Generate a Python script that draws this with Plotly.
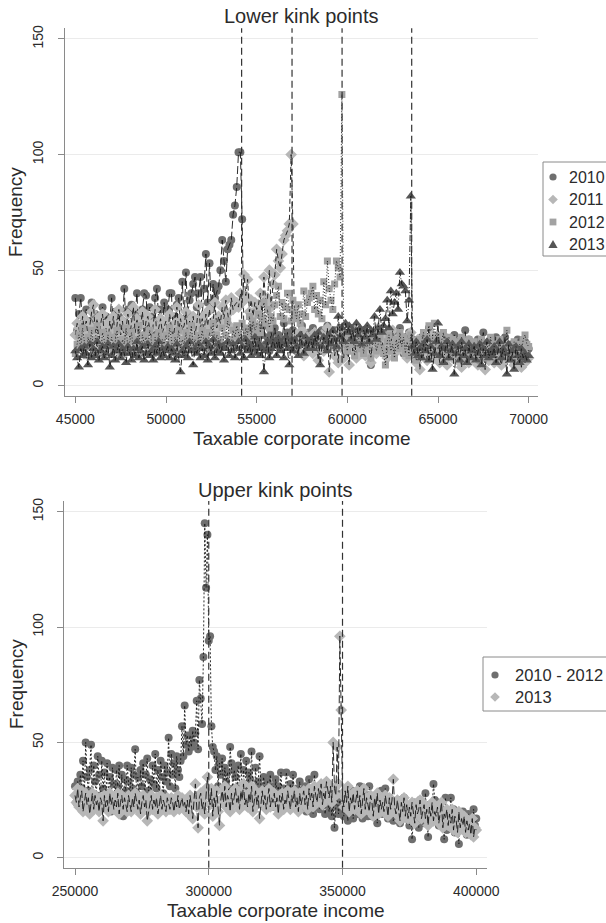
import plotly.graph_objects as go

W, H = 606, 923

# ---------------- data ----------------
lower_bins = list(range(45000, 70001, 100))
upper_bins = list(range(250000, 400001, 500))
lower_kinks = [54170, 56950, 59710, 63550]
upper_kinks = [300000, 350000]
lower_names = ["2010", "2011", "2012", "2013"]
upper_names = ["2010 - 2012", "2013"]
y_ticks = [0, 50, 100, 150]
lower_xticks = [45000, 50000, 55000, 60000, 65000, 70000]
upper_xticks = [250000, 300000, 350000, 400000]

freq_2010 = [
    38, 24, 31, 38, 27, 22, 33, 19, 28, 36,
    25, 31, 20, 29, 26, 34, 22, 30, 18, 27,
    38, 23, 32, 25, 30, 21, 28, 42, 24, 33,
    22, 35, 26, 31, 40, 20, 29, 33, 40, 39,
    25, 34, 30, 23, 38, 42, 28, 33, 24, 36,
    27, 33, 40, 40, 22, 30, 35, 38, 26, 45,
    29, 49, 31, 37, 40, 44, 47, 34, 40, 47,
    30, 42, 57, 36, 53, 33, 44, 38, 41, 43,
    50, 63, 54, 45, 59, 61, 63, 74, 78, 86,
    101, 101, 72, 20, 17, 22, 18, 25, 16, 21,
    20, 24, 17, 22, 26, 18, 21, 15, 23, 19,
    25, 18, 22, 16, 20, 27, 19, 23, 17, 21,
    24, 20, 15, 22, 18, 26, 19, 21, 16, 23,
    19, 25, 17, 22, 20, 15, 24, 18, 21, 26,
    17, 22, 19, 24, 16, 21, 25, 18, 20, 14,
    22, 18, 25, 20, 16, 23, 19, 21, 15, 24,
    18, 22, 17, 9, 21, 19, 24, 16, 20, 23,
    17, 21, 19, 24, 15, 20, 18, 22, 16, 25,
    19, 14, 21, 17, 23, 16, 20, 15, 18, 13,
    17, 21, 14, 19, 16, 25, 13, 22, 18, 15,
    20, 14, 18, 16, 21, 12, 17, 19, 15, 22,
    16, 19, 13, 18, 15, 24, 14, 20, 17, 12,
    18, 15, 20, 13, 17, 23, 16, 14, 19, 11,
    17, 14, 21, 16, 12, 18, 15, 21, 13, 16,
    14, 18, 12, 16, 20, 13, 17, 15, 19, 14,
    16,
]

freq_2011 = [
    22, 27, 25, 20, 30, 24, 28, 21, 26, 32,
    35, 23, 29, 19, 27, 31, 22, 25, 18, 28,
    24, 30, 20, 26, 33, 22, 28, 19, 25, 31,
    21, 27, 34, 23, 29, 20, 26, 32, 22, 28,
    30, 24, 19, 27, 33, 21, 25, 29, 23, 26,
    28, 22, 31, 25, 20, 27, 34, 23, 29, 24,
    26, 32, 21, 28, 24, 30, 22, 27, 35, 25,
    29, 23, 31, 26, 33, 24, 28, 36, 25, 30,
    27, 34, 29, 37, 31, 26, 38, 33, 35, 36,
    34, 40, 36, 48, 39, 46, 32, 37, 30, 36,
    33, 35, 40, 30, 47, 36, 38, 50, 34, 44,
    48, 59, 54, 51, 57, 63, 65, 67, 70, 100,
    70, 18, 22, 15, 20, 24, 13, 19, 21, 16,
    20, 14, 23, 17, 11, 19, 22, 15, 18, 25,
    6, 17, 21, 13, 19, 10, 24, 16, 12, 20,
    18, 9, 22, 15, 19, 12, 21, 17, 14, 23,
    13, 20, 16, 10, 22, 18, 14, 25, 17, 21,
    15, 19, 12, 22, 17, 24, 14, 20, 16, 18,
    21, 15, 19, 12, 17, 23, 14, 18, 10, 20,
    7, 16, 13, 19, 11, 17, 14, 22, 12, 18,
    15, 10, 19, 13, 17, 9, 16, 20, 12, 14,
    18, 11, 15, 8, 17, 13, 19, 10, 16, 12,
    14, 17, 9, 15, 12, 18, 7, 16, 11, 13,
    16, 10, 14, 18, 12, 9, 15, 11, 17, 13,
    12, 15, 9, 17, 11, 14, 8, 16, 10, 13,
    12,
]

freq_2012 = [
    14, 18, 22, 16, 25, 19, 13, 21, 17, 24,
    15, 20, 26, 18, 14, 23, 19, 16, 22, 17,
    21, 15, 19, 24, 17, 13, 20, 18, 25, 16,
    19, 23, 15, 20, 17, 26, 14, 22, 18, 21,
    16, 24, 19, 14, 21, 17, 23, 15, 20, 18,
    22, 17, 25, 19, 15, 21, 18, 24, 16, 20,
    18, 23, 16, 21, 26, 17, 20, 15, 22, 19,
    24, 18, 21, 16, 23, 19, 27, 17, 22, 20,
    19, 25, 17, 22, 28, 20, 18, 24, 21, 26,
    23, 20, 27, 19, 25, 22, 30, 21, 28, 24,
    26, 31, 23, 29, 36, 27, 33, 25, 30, 28,
    35, 39, 43, 30, 36, 29, 34, 40, 33, 28,
    37, 32, 29, 35, 27, 31, 41, 30, 36, 38,
    40, 43, 33, 39, 31, 37, 29, 45, 35, 54,
    42, 37, 33, 44, 54, 51, 47, 126, 22, 18,
    15, 21, 18, 24, 13, 19, 22, 16, 20, 14,
    23, 17, 20, 12, 19, 22, 15, 18, 21, 16,
    14, 9, 19, 22, 15, 18, 12, 20, 16, 23,
    17, 21, 14, 19, 13, 22, 16, 18, 11, 20,
    15, 19, 23, 17, 21, 26, 14, 20, 27, 18,
    22, 16, 19, 23, 14, 18, 21, 15, 20, 17,
    13, 19, 16, 21, 12, 18, 15, 20, 14, 17,
    19, 13, 17, 11, 20, 15, 18, 12, 16, 21,
    14, 18, 11, 16, 20, 13, 17, 15, 24, 12,
    17, 13, 19, 15, 11, 18, 14, 20, 22, 18,
    17,
]

freq_2013 = [
    15, 12, 8, 16, 13, 17, 14, 9, 18, 12,
    16, 13, 19, 11, 15, 17, 12, 14, 18, 8,
    13, 17, 11, 15, 18, 12, 16, 14, 10, 17,
    14, 11, 16, 13, 19, 12, 15, 17, 11, 14,
    18, 13, 15, 11, 17, 14, 19, 12, 16, 13,
    15, 17, 12, 16, 14, 11, 18, 13, 6, 15,
    13, 17, 12, 19, 15, 9, 16, 14, 18, 12,
    16, 13, 19, 11, 17, 14, 20, 12, 15, 18,
    14, 17, 11, 16, 19, 13, 15, 18, 12, 16,
    19, 14, 17, 12, 20, 15, 18, 13, 16, 21,
    14, 18, 13, 16, 6, 15, 19, 12, 16, 20,
    17, 13, 20, 15, 18, 12, 21, 16, 9, 19,
    15, 20, 17, 13, 22, 18, 14, 21, 16, 19,
    20, 16, 22, 18, 23, 9, 17, 21, 19, 15,
    22, 18, 24, 20, 17, 30, 21, 25, 19, 27,
    23, 26, 20, 24, 19, 27, 22, 25, 18, 24,
    21, 26, 19, 24, 22, 30, 20, 25, 33, 23,
    26, 29, 37, 25, 41, 31, 36, 40, 33, 49,
    44, 43, 41, 28, 37, 82, 17, 14, 19, 13,
    16, 12, 18, 15, 20, 11, 17, 7, 14, 19,
    27, 13, 17, 10, 16, 19, 12, 15, 18, 5,
    14, 17, 11, 19, 13, 16, 10, 18, 12, 15,
    17, 11, 14, 18, 9, 16, 13, 19, 12, 15,
    13, 17, 10, 15, 19, 12, 16, 14, 5, 18,
    11, 15, 7, 17, 13, 10, 16, 12, 14, 11,
    13,
]

freq_2010_2012_upper = [
    31, 24, 33, 28, 36, 30, 42, 27, 50, 35,
    29, 38, 49, 22, 40, 33, 27, 44, 36, 25,
    42, 30, 37, 24, 41, 28, 35, 20, 39, 32,
    26, 38, 31, 40, 23, 36, 18, 34, 29, 40,
    33, 25, 39, 30, 36, 47, 28, 35, 22, 38,
    31, 41, 27, 36, 43, 29, 34, 24, 40, 32,
    45, 30, 38, 26, 42, 35, 28, 40, 33, 37,
    52, 31, 45, 36, 41, 30, 44, 38, 35, 42,
    57, 44, 66, 49, 53, 46, 53, 48, 55, 50,
    54, 68, 47, 77, 69, 58, 87, 145, 117, 140,
    94, 96, 57, 48, 46, 38, 44, 31, 41, 36,
    43, 29, 39, 33, 37, 27, 48, 41, 30, 38,
    35, 28, 40, 31, 45, 26, 38, 30, 42, 24,
    37, 34, 46, 29, 22, 39, 28, 33, 44, 31,
    27, 35, 30, 24, 33, 29, 36, 26, 31, 22,
    34, 28, 31, 25, 37, 23, 30, 27, 37, 29,
    26, 32, 24, 36, 28, 22, 30, 25, 33, 21,
    29, 24, 31, 20, 27, 34, 23, 28, 19, 36,
    22, 29, 25, 21, 30, 24, 27, 19, 28, 23,
    20, 26, 18, 24, 13, 22, 28, 19, 25, 21,
    24, 18, 27, 22, 16, 25, 20, 29, 17, 23,
    26, 19, 24, 31, 21, 17, 28, 22, 25, 18,
    31, 23, 18, 26, 20, 27, 15, 24, 21, 29,
    19, 25, 30, 22, 17, 26, 20, 23, 16, 24,
    21, 18, 25, 15, 22, 19, 26, 17, 23, 20,
    14, 22, 8, 19, 24, 16, 21, 13, 25, 18,
    20, 15, 28, 18, 9, 23, 17, 21, 32, 25,
    19, 24, 14, 22, 17, 20, 8, 26, 12, 18,
    16, 26, 13, 21, 11, 18, 14, 6, 15, 12,
    20, 14, 17, 10, 19, 13, 16, 11, 21, 14,
    17,
]

freq_2013_upper = [
    27, 24, 30, 22, 26, 29, 20, 25, 28, 23,
    26, 19, 24, 28, 21, 27, 23, 25, 20, 26,
    24, 16, 27, 22, 25, 20, 28, 23, 26, 21,
    25, 22, 28, 19, 24, 27, 21, 26, 23, 20,
    27, 23, 20, 26, 22, 28, 24, 21, 25, 19,
    24, 27, 22, 25, 16, 20, 23, 27, 21, 25,
    22, 26, 19, 24, 27, 21, 25, 23, 20, 26,
    23, 21, 26, 24, 20, 25, 22, 27, 21, 24,
    26, 22, 24, 20, 25, 19, 27, 23, 17, 25,
    32, 22, 13, 26, 28, 21, 24, 19, 30, 35,
    27, 23, 30, 18, 26, 22, 29, 20, 14, 25,
    29, 24, 31, 22, 27, 25, 20, 28, 23, 26,
    30, 24, 27, 21, 29, 25, 32, 23, 26, 22,
    28, 24, 31, 20, 26, 29, 23, 27, 17, 25,
    29, 23, 27, 21, 25, 30, 22, 26, 24, 28,
    22, 26, 19, 27, 24, 28, 21, 25, 23, 29,
    25, 21, 27, 24, 29, 22, 26, 20, 28, 23,
    26, 29, 23, 27, 21, 30, 25, 28, 22, 31,
    27, 24, 30, 26, 32, 23, 28, 25, 33, 29,
    26, 31, 24, 50, 30, 27, 48, 32, 96, 64,
    27, 22, 29, 24, 31, 20, 26, 23, 28, 21,
    25, 29, 22, 27, 19, 24, 30, 21, 26, 23,
    20, 27, 24, 18, 26, 22, 28, 19, 25, 21,
    24, 20, 27, 23, 18, 26, 21, 25, 34, 22,
    19, 25, 21, 16, 24, 20, 26, 18, 23, 17,
    22, 18, 24, 20, 15, 23, 19, 21, 25, 17,
    20, 23, 17, 21, 14, 22, 18, 24, 16, 20,
    18, 22, 15, 20, 24, 13, 19, 17, 21, 14,
    19, 15, 21, 12, 18, 16, 11, 20, 13, 17,
    14, 18, 11, 16, 12, 15, 10, 17, 9, 13,
    12,
]

for arr in (freq_2010, freq_2011, freq_2012, freq_2013):
    assert len(arr) == len(lower_bins), len(arr)
for arr in (freq_2010_2012_upper, freq_2013_upper):
    assert len(arr) == len(upper_bins), len(arr)

# ---------------- styling ----------------
FONT = "Liberation Sans, Arial, Helvetica, sans-serif"
AX = "#8a8a8a"
TXT = "#2b2b2b"


def px(p):
    return p / W


def py(p):
    return 1 - p / H


lower_series = [
    (freq_2010, "circle", 8, "#6f6f6f", "8px,3px"),
    (freq_2011, "diamond", 9, "#b7b7b7", "5px,3px"),
    (freq_2012, "square", 7, "#a2a2a2", "1px,2px"),
    (freq_2013, "triangle-up", 9, "#565656", "6px,2px,1px,2px"),
]
upper_series = [
    (freq_2010_2012_upper, "circle", 8, "#6f6f6f", "2px,2px"),
    (freq_2013_upper, "diamond", 9, "#b7b7b7", "8px,3px"),
]

TOP_L, TOP_R, TOP_T, TOP_B = 65, 538, 28.3, 395.7
BOT_L, BOT_R, BOT_T, BOT_B = 64.3, 486.7, 501, 867.7

fig = go.Figure()

for name, (vals, sym, size, col, dash) in zip(lower_names, lower_series):
    fig.add_trace(go.Scatter(
        x=lower_bins, y=vals, mode="markers", name=name, showlegend=False,
        marker=dict(symbol=sym, size=size, color=col, line=dict(width=0)),
        xaxis="x", yaxis="y"))
    fig.add_trace(go.Scatter(
        x=lower_bins, y=vals, mode="lines", showlegend=False, hoverinfo="skip",
        line=dict(color="#151515", width=0.9, dash=dash),
        xaxis="x", yaxis="y"))

for name, (vals, sym, size, col, dash) in zip(upper_names, upper_series):
    fig.add_trace(go.Scatter(
        x=upper_bins, y=vals, mode="markers", name=name, showlegend=False,
        marker=dict(symbol=sym, size=size, color=col, line=dict(width=0)),
        xaxis="x2", yaxis="y2"))
    fig.add_trace(go.Scatter(
        x=upper_bins, y=vals, mode="lines", showlegend=False, hoverinfo="skip",
        line=dict(color="#151515", width=0.9, dash=dash),
        xaxis="x2", yaxis="y2"))


# ---- legend (box, key symbols, labels) ----
def key_shape(sym, cx, cy, col):
    base = dict(xref="paper", yref="paper", fillcolor=col, line=dict(width=0), layer="above")
    if sym == "circle":
        r = 3.6
        return dict(type="circle", x0=px(cx - r), x1=px(cx + r), y0=py(cy + r), y1=py(cy - r), **base)
    if sym == "square":
        r = 3.4
        return dict(type="rect", x0=px(cx - r), x1=px(cx + r), y0=py(cy + r), y1=py(cy - r), **base)
    if sym == "diamond":
        r = 4.8
        path = (f"M {px(cx)},{py(cy - r)} L {px(cx + r)},{py(cy)} "
                f"L {px(cx)},{py(cy + r)} L {px(cx - r)},{py(cy)} Z")
        return dict(type="path", path=path, **base)
    r = 4.6
    path = (f"M {px(cx)},{py(cy - r)} L {px(cx + r)},{py(cy + r * 0.75)} "
            f"L {px(cx - r)},{py(cy + r * 0.75)} Z")
    return dict(type="path", path=path, **base)


LEG_BORDER = "#8a8a8a"
shapes = [
    dict(type="rect", xref="paper", yref="paper", x0=px(543), x1=px(640), y0=py(256), y1=py(162),
         line=dict(color=LEG_BORDER, width=1), fillcolor="white", layer="above"),
    dict(type="rect", xref="paper", yref="paper", x0=px(483), x1=px(640), y0=py(711), y1=py(657),
         line=dict(color=LEG_BORDER, width=1), fillcolor="white", layer="above"),
]

annotations = []
lower_key_y = [177, 199.5, 222, 244.5]
upper_key_y = [675, 697]
for name, (vals, sym, size, col, dash), ky in zip(lower_names, lower_series, lower_key_y):
    shapes.append(key_shape(sym, 553, ky, col))
    annotations.append(dict(text=name, x=px(567), y=py(ky), xref="paper", yref="paper",
                            showarrow=False, xanchor="left", yanchor="middle",
                            font=dict(size=16, color=TXT, family=FONT)))
for name, (vals, sym, size, col, dash), ky in zip(upper_names, upper_series, upper_key_y):
    shapes.append(key_shape(sym, 495, ky, col))
    annotations.append(dict(text=name, x=px(513), y=py(ky), xref="paper", yref="paper",
                            showarrow=False, xanchor="left", yanchor="middle",
                            font=dict(size=16.5, color=TXT, family=FONT)))

for k in lower_kinks:
    shapes.append(dict(type="line", xref="x", yref="y domain", x0=k, x1=k, y0=0, y1=1,
                       line=dict(color="#333333", width=1.2, dash="7px,4px"), layer="above"))
for k in upper_kinks:
    shapes.append(dict(type="line", xref="x2", yref="y2 domain", x0=k, x1=k, y0=0, y1=1,
                       line=dict(color="#333333", width=1.2, dash="7px,4px"), layer="above"))

xcommon = dict(showline=True, linecolor=AX, linewidth=1.3, ticks="outside", ticklen=6,
               tickcolor=AX, tickwidth=1.2, showgrid=False, zeroline=False,
               tickformat="d", ticklabelstandoff=4,
               tickfont=dict(size=14, color=TXT, family=FONT))
ycommon = dict(showline=True, linecolor=AX, linewidth=1.3, ticks="outside", ticklen=6,
               tickcolor=AX, tickwidth=1.2, showgrid=True, gridcolor="#ebebeb", gridwidth=1,
               zeroline=False, tickangle=-90, tickvals=y_ticks, range=[-4.3, 154.6],
               ticklabelstandoff=9,
               tickfont=dict(size=14, color=TXT, family=FONT))

annotations += [
    dict(text="Lower kink points", x=px(301.5), y=py(16), xref="paper", yref="paper",
         showarrow=False, font=dict(size=20, color=TXT, family=FONT), xanchor="center", yanchor="middle"),
    dict(text="Upper kink points", x=px(275.5), y=py(490), xref="paper", yref="paper",
         showarrow=False, font=dict(size=20, color=TXT, family=FONT), xanchor="center", yanchor="middle"),
    dict(text="Taxable corporate income", x=px(301.5), y=py(438), xref="paper", yref="paper",
         showarrow=False, font=dict(size=19, color=TXT, family=FONT), xanchor="center", yanchor="middle"),
    dict(text="Taxable corporate income", x=px(275.5), y=py(910), xref="paper", yref="paper",
         showarrow=False, font=dict(size=19, color=TXT, family=FONT), xanchor="center", yanchor="middle"),
    dict(text="Frequency", x=px(16), y=py(212), xref="paper", yref="paper", textangle=-90,
         showarrow=False, font=dict(size=19, color=TXT, family=FONT), xanchor="center", yanchor="middle"),
    dict(text="Frequency", x=px(16), y=py(684), xref="paper", yref="paper", textangle=-90,
         showarrow=False, font=dict(size=19, color=TXT, family=FONT), xanchor="center", yanchor="middle"),
]

fig.update_layout(
    width=W, height=H,
    margin=dict(l=0, r=0, t=0, b=0, autoexpand=False),
    paper_bgcolor="white", plot_bgcolor="white",
    font=dict(family=FONT, color=TXT),
    showlegend=False,
    xaxis=dict(domain=[px(TOP_L), px(TOP_R)], range=[44430, 70515], tickvals=lower_xticks,
               anchor="y", **xcommon),
    yaxis=dict(domain=[py(TOP_B), py(TOP_T)], anchor="x", **ycommon),
    xaxis2=dict(domain=[px(BOT_L), px(BOT_R)], range=[246000, 403900], tickvals=upper_xticks,
                anchor="y2", **xcommon),
    yaxis2=dict(domain=[py(BOT_B), py(BOT_T)], anchor="x2", **ycommon),
    shapes=shapes,
    annotations=annotations,
)

fig.write_html("out.html", config={"displayModeBar": False},
               post_script="document.body.style.margin='0';document.body.style.overflow='hidden';")
